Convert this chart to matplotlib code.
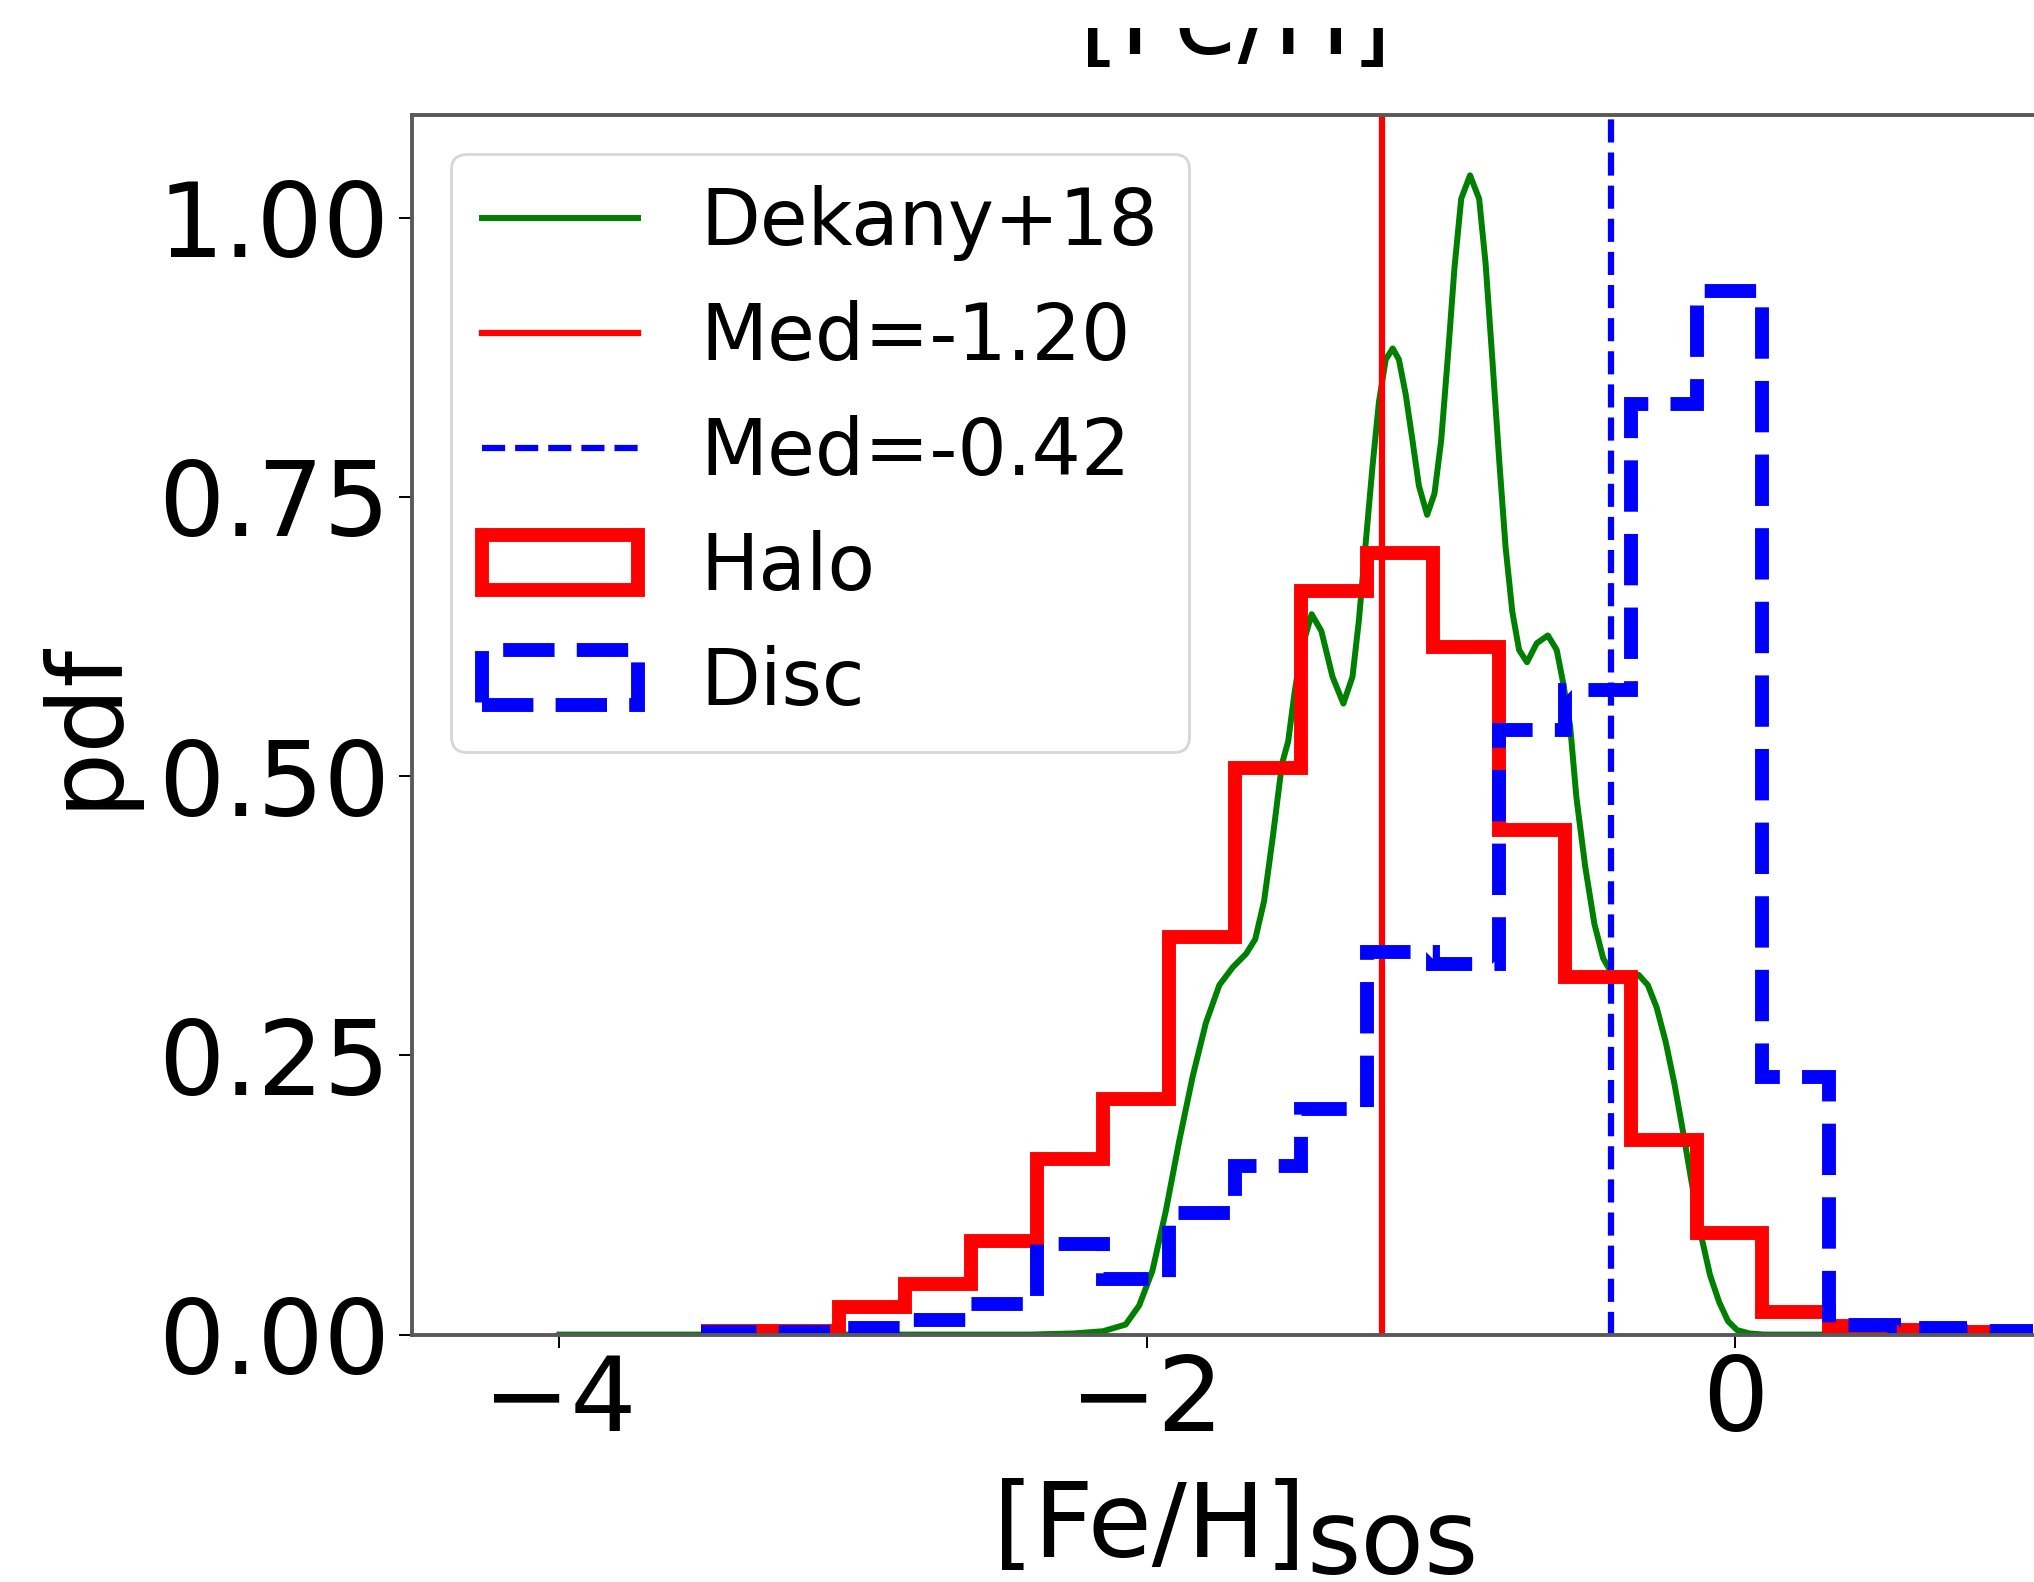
import numpy as np

import matplotlib
matplotlib.use('Agg')  # no display
import matplotlib.pyplot as plt
from matplotlib.transforms import Bbox, TransformedBbox

# Histogram bin edges in [Fe/H] (20 bins)
bin_edges = [-3.496, -3.272, -3.047, -2.823, -2.598, -2.374, -2.150,
             -1.925, -1.701, -1.476, -1.252, -1.028, -0.803, -0.579,
             -0.354, -0.130, 0.094, 0.319, 0.543, 0.768, 0.992]

# Normalised counts (pdf)
halo_pdf = [0.003, 0.003, 0.025, 0.045, 0.084, 0.157, 0.211, 0.356,
            0.507, 0.666, 0.700, 0.616, 0.452, 0.320, 0.174, 0.091,
            0.020, 0.008, 0.004, 0.002]
disc_pdf = [0.002, 0.002, 0.006, 0.013, 0.027, 0.081, 0.050, 0.109,
            0.151, 0.202, 0.343, 0.332, 0.541, 0.577, 0.833, 0.934,
            0.231, 0.009, 0.006, 0.003]

# Dekany+18 distribution
dekany_feh = [-4.000, -2.400, -2.250, -2.150, -2.073, -2.027, -1.982,
              -1.936, -1.891, -1.845, -1.800, -1.754, -1.708, -1.663,
              -1.632, -1.602, -1.572, -1.541, -1.520, -1.498, -1.475,
              -1.440, -1.407, -1.369, -1.332, -1.301, -1.279, -1.256,
              -1.233, -1.211, -1.188, -1.164, -1.143, -1.120, -1.097,
              -1.075, -1.047, -1.022, -0.999, -0.976, -0.954, -0.931,
              -0.901, -0.870, -0.848, -0.825, -0.802, -0.780, -0.757,
              -0.734, -0.707, -0.674, -0.636, -0.606, -0.583, -0.560,
              -0.539, -0.509, -0.478, -0.448, -0.418, -0.387, -0.357,
              -0.327, -0.296, -0.266, -0.235, -0.205, -0.175, -0.144,
              -0.114, -0.084, -0.053, -0.023, 0.008, 0.050, 0.100, 1.000]
dekany_pdf = [0.000, 0.000, 0.001, 0.003, 0.009, 0.026, 0.057,
              0.111, 0.173, 0.231, 0.279, 0.313, 0.329, 0.341,
              0.354, 0.388, 0.446, 0.511, 0.531, 0.575, 0.613,
              0.645, 0.630, 0.589, 0.565, 0.589, 0.640, 0.709,
              0.777, 0.835, 0.873, 0.883, 0.873, 0.842, 0.801,
              0.760, 0.734, 0.753, 0.801, 0.877, 0.955, 1.017,
              1.038, 1.017, 0.959, 0.873, 0.784, 0.705, 0.647,
              0.613, 0.602, 0.619, 0.626, 0.613, 0.582, 0.544,
              0.481, 0.419, 0.368, 0.337, 0.323, 0.320, 0.323,
              0.322, 0.313, 0.293, 0.262, 0.224, 0.180, 0.132,
              0.088, 0.053, 0.029, 0.012, 0.004, 0.001, 0.000, 0.000]

halo_median = -1.20
disc_median = -0.42

xticks = [-4, -2, 0]
yticks = [0.0, 0.25, 0.50, 0.75, 1.00]

fig = plt.figure(figsize=(20.34, 15.82), dpi=100)
# the panel is cropped on the right, so the axes run past the figure edge
ax = fig.add_axes([0.2028, 0.1564, 0.809, 0.7709])

ax.plot(dekany_feh, dekany_pdf, color='green', lw=4.3, label='Dekany+18')
ax.axvline(halo_median, color='red', lw=4.5, label=f'Med={halo_median:.2f}')
ax.axvline(disc_median, color='blue', lw=4.5, ls='--',
           label=f'Med={disc_median:.2f}')

edges = np.array(bin_edges)
centres = 0.5 * (edges[:-1] + edges[1:])
ax.hist(centres, bins=edges, weights=halo_pdf, histtype='step',
        color='red', lw=10, label='Halo')
ax.hist(centres, bins=edges, weights=disc_pdf, histtype='step',
        color='blue', lw=10, ls='--', label='Disc')

ax.set_xlim(-4.5, 1.1)
ax.set_ylim(0, 1.092)
ax.set_xticks(xticks)
ax.set_yticks(yticks)
ax.set_yticklabels([f'{v:.2f}' for v in yticks])

ax.tick_params(labelsize=75, length=9.5, width=1.4, color='black')
ax.tick_params(axis='x', pad=3)
ax.tick_params(axis='y', pad=7)
for sp in ax.spines.values():
    sp.set_linewidth(2.8)
    sp.set_color('0.35')

ax.set_ylabel('pdf', fontsize=75, labelpad=16)
ax.set_xlabel('[Fe/H]', fontsize=75, x=0.448, labelpad=18)
ax.annotate('sos', xy=(1, 0), xycoords=ax.xaxis.label, xytext=(0, 3.6),
            textcoords='offset points', fontsize=75, ha='left', va='baseline')

# title of the cropped panel: only its lower part shows
title = ax.set_title('[Fe/H]', fontsize=75, pad=44)
title.set_clip_box(TransformedBbox(Bbox([[0, 0], [1, 1 - 28 / 1582]]),
                                   fig.transFigure))
title.set_clip_on(True)

leg = ax.legend(loc='upper left', fontsize=56)
leg.get_frame().set_linewidth(2)

fig.savefig('out.png', dpi=100)
